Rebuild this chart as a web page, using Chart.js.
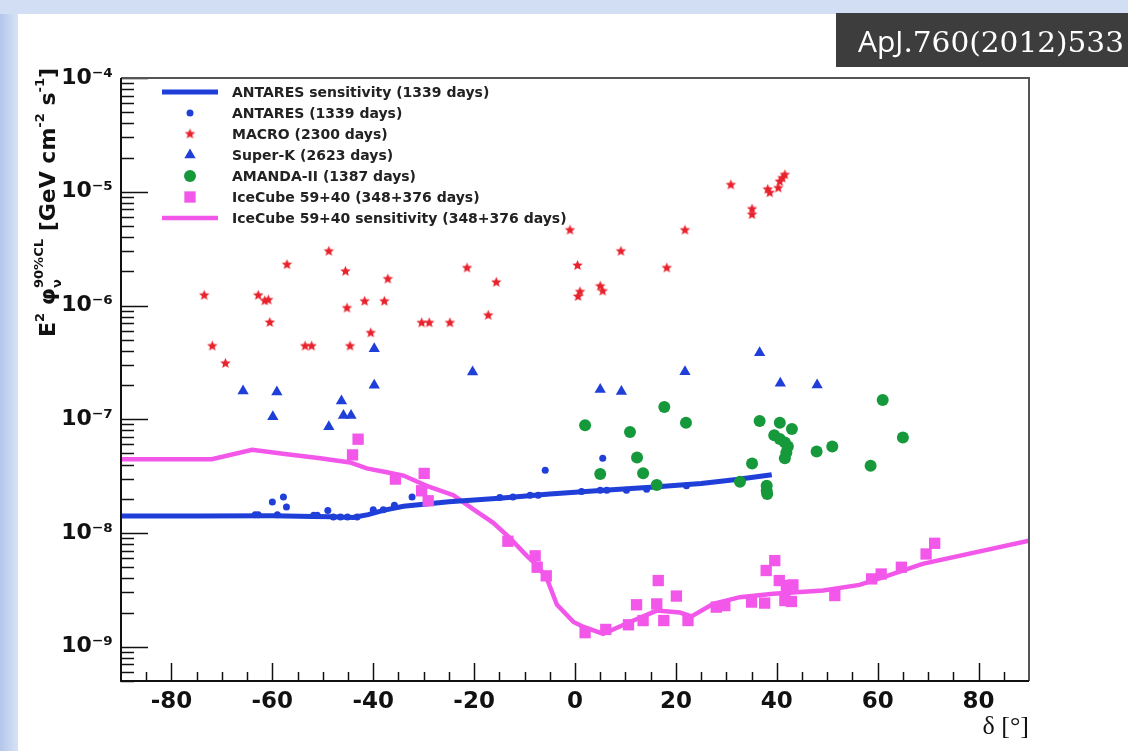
<!DOCTYPE html>
<html>
<head>
<meta charset="utf-8">
<script src="https://cdn.jsdelivr.net/npm/chart.js@4.4.1/dist/chart.umd.min.js"></script>
<style>
    html, body { margin: 0; padding: 0; background: #fff; }
    canvas { display: block; }
</style>
</head>
<body>
<canvas id="chart-limits" width="1128" height="751"></canvas>
<script>
// ---- data (declination in degrees, flux in GeV cm^-2 s^-1) ----
const antaresSensDec  = [-90, -75, -60, -52, -48, -44, -41, -38, -34, -25, -15, -5, 5, 15, 25, 32, 39];
const antaresSensFlux = [1.41e-8, 1.41e-8, 1.42e-8, 1.40e-8, 1.39e-8, 1.37e-8, 1.45e-8, 1.58e-8, 1.72e-8,
                         1.88e-8, 2.02e-8, 2.20e-8, 2.36e-8, 2.52e-8, 2.72e-8, 2.95e-8, 3.25e-8];

const antaresDec  = [-63.4, -62.8, -59, -51.8, -51.1, -49, -47.9, -46.5, -45.1, -43.2, -40, -38, -35.8,
                     -14.9, -12.3, -8.9, -7.3, 1.3, 5, 6.3, 10.2, 14.2, 22.1,
                     -60, -57.8, -57.2, -32.3, -5.9, 5.5];
const antaresFlux = [1.45e-8, 1.45e-8, 1.45e-8, 1.43e-8, 1.43e-8, 1.58e-8, 1.38e-8, 1.38e-8, 1.38e-8, 1.38e-8,
                     1.60e-8, 1.60e-8, 1.75e-8, 2.05e-8, 2.07e-8, 2.15e-8, 2.15e-8, 2.32e-8, 2.38e-8, 2.38e-8,
                     2.38e-8, 2.42e-8, 2.60e-8,
                     1.87e-8, 2.07e-8, 1.69e-8, 2.07e-8, 3.57e-8, 4.55e-8];

const macroDec  = [-73.5, -71.9, -69.3, -62.8, -61.5, -60.8, -60.5, -57.1, -53.5, -52.2, -48.8, -45.5, -45.2,
                   -44.6, -41.7, -40.5, -37.8, -37.1, -30.4, -28.9, -24.8, -21.4, -17.2, -15.6, -1, 0.5,
                   1.0, 0.6, 5, 5.5, 9.1, 18.2, 21.8, 30.9, 35.1, 35.1, 38.2, 38.6, 40.3, 40.6, 41.1, 41.6];
const macroFlux = [1.23e-6, 4.4e-7, 3.1e-7, 1.23e-6, 1.10e-6, 1.12e-6, 7.1e-7, 2.29e-6, 4.4e-7, 4.4e-7,
                   3.0e-6, 2.0e-6, 9.5e-7, 4.4e-7, 1.09e-6, 5.75e-7, 1.09e-6, 1.71e-6, 7.05e-7, 7.05e-7,
                   7.05e-7, 2.14e-6, 8.2e-7, 1.6e-6, 4.6e-6, 2.25e-6, 1.32e-6, 1.2e-6, 1.48e-6, 1.34e-6,
                   3.0e-6, 2.14e-6, 4.6e-6, 1.15e-5, 7.05e-6, 6.3e-6, 1.05e-5, 9.8e-6, 1.08e-5, 1.23e-5,
                   1.32e-5, 1.41e-5];

const superKDec  = [-65.8, -59.1, -59.9, -48.8, -46.3, -45.9, -44.4, -39.8, -39.8, -20.3, 5, 9.2, 21.8, 36.6, 40.7, 48];
const superKFlux = [1.77e-7, 1.74e-7, 1.05e-7, 8.6e-8, 1.45e-7, 1.08e-7, 1.08e-7, 4.17e-7, 1.99e-7, 2.6e-7,
                    1.83e-7, 1.75e-7, 2.62e-7, 3.85e-7, 2.07e-7, 2.0e-7];

const amandaDec  = [2, 5, 10.9, 12.3, 13.5, 16.2, 17.7, 22, 32.7, 35.1, 36.6, 38, 38, 38.1, 40.6, 43,
                    39.5, 40.6, 41.6, 42.2, 41.9, 41.6, 47.9, 51, 58.6, 61, 65];
const amandaFlux = [8.85e-8, 3.3e-8, 7.74e-8, 4.6e-8, 3.36e-8, 2.64e-8, 1.28e-7, 9.3e-8, 2.82e-8, 4.08e-8,
                    9.65e-8, 2.6e-8, 2.35e-8, 2.2e-8, 9.3e-8, 8.2e-8, 7.24e-8, 6.7e-8, 6.25e-8, 5.76e-8,
                    5.1e-8, 4.55e-8, 5.2e-8, 5.76e-8, 3.9e-8, 1.48e-7, 6.92e-8];

const icecubeDec  = [-43, -44.1, -35.6, -29.9, -30.4, -29.1, -13.3, -7.9, -7.5, -5.7, 2, 6.1, 10.6, 12.2, 13.5,
                     16.5, 16.2, 17.6, 20.1, 22.4, 28, 29.7, 35, 37.6, 37.9, 39.6, 40.5, 41.9, 43.2, 41.6,
                     42.9, 51.5, 58.8, 60.7, 64.7, 69.6, 71.3];
const icecubeFlux = [6.68e-8, 4.86e-8, 2.98e-8, 3.34e-8, 2.35e-8, 1.92e-8, 8.46e-9, 6.3e-9, 5.0e-9, 4.2e-9,
                     1.33e-9, 1.42e-9, 1.56e-9, 2.34e-9, 1.7e-9, 3.82e-9, 2.38e-9, 1.7e-9, 2.79e-9, 1.7e-9,
                     2.23e-9, 2.3e-9, 2.47e-9, 2.42e-9, 4.68e-9, 5.72e-9, 3.82e-9, 3.45e-9, 3.5e-9, 2.55e-9,
                     2.5e-9, 2.82e-9, 3.95e-9, 4.36e-9, 5.0e-9, 6.54e-9, 8.12e-9];

const icecubeSensDec  = [-90, -72, -64, -57.1, -50.5, -44.6, -41.3, -37.3, -34, -29.4, -24.1, -20.2, -16.2,
                         -12.9, -9.4, -7.5, -5.6, -3.6, -0.3, 1.6, 5.6, 10.9, 16.2, 20.8, 23.1, 27.4, 32.7,
                         39.3, 49.2, 56.4, 61, 68.9, 90];
const icecubeSensFlux = [4.46e-8, 4.46e-8, 5.38e-8, 4.93e-8, 4.55e-8, 4.17e-8, 3.7e-8, 3.42e-8, 3.2e-8, 2.6e-8,
                         2.15e-8, 1.62e-8, 1.23e-8, 9.0e-9, 6.2e-9, 5.2e-9, 4.0e-9, 2.35e-9, 1.65e-9, 1.5e-9,
                         1.3e-9, 1.65e-9, 2.08e-9, 2.0e-9, 1.85e-9, 2.38e-9, 2.73e-9, 2.92e-9, 3.12e-9, 3.5e-9,
                         4.08e-9, 5.35e-9, 8.55e-9];

const xTickValues = [-80, -60, -40, -20, 0, 20, 40, 60, 80];
const yTickValues = [1e-9, 1e-8, 1e-7, 1e-6, 1e-5, 1e-4];
const yTickLabels = ['10\u207b\u2079', '10\u207b\u2078', '10\u207b\u2077', '10\u207b\u2076', '10\u207b\u2075', '10\u207b\u2074'];

// ---- styling ----
const blue = '#1f3fd8';
const red = '#e8232e';
const green = '#16993b';
const pink = '#f257ea';
const tickFont = '"DejaVu Sans", Arial, sans-serif';

function pts(xs, ys) {
    return xs.map((x, i) => ({ x: x, y: ys[i] }));
}

function makeStar(r, color) {
    const c = document.createElement('canvas');
    const s = Math.ceil(r * 2) + 2;
    c.width = s; c.height = s;
    const g = c.getContext('2d');
    g.fillStyle = color;
    g.beginPath();
    for (let i = 0; i < 10; i++) {
        const rad = i % 2 ? r * 0.45 : r;
        const a = -Math.PI / 2 + i * Math.PI / 5;
        g.lineTo(s / 2 + rad * Math.cos(a), s / 2 + rad * Math.sin(a));
    }
    g.closePath();
    g.fill();
    return c;
}
const starPoint = makeStar(5.5, red);

function drawMarker(ctx, style, r, color, x, y) {
    ctx.fillStyle = color;
    ctx.beginPath();
    if (style === 'circle') {
        ctx.arc(x, y, r, 0, Math.PI * 2);
    } else if (style === 'triangle') {
        for (let i = 0; i < 3; i++) {
            const a = i * 2 * Math.PI / 3;
            ctx.lineTo(x + Math.sin(a) * r, y - Math.cos(a) * r);
        }
        ctx.closePath();
    } else if (style === 'rect') {
        const h = r * Math.SQRT1_2;
        ctx.rect(x - h, y - h, 2 * h, 2 * h);
    } else {
        ctx.drawImage(style, x - style.width / 2, y - style.height / 2);
        return;
    }
    ctx.fill();
}

// background, frame, inside ticks, legend, y title, journal tag
const pageDecor = {
    id: 'pageDecor',
    beforeDraw(chart) {
        const ctx = chart.ctx;
        ctx.save();
        ctx.fillStyle = '#d2def4';
        ctx.fillRect(0, 0, chart.width, chart.height);
        const g = ctx.createLinearGradient(0, 0, 18, 0);
        g.addColorStop(0, '#b3c6ea');
        g.addColorStop(1, '#d8e3f6');
        ctx.fillStyle = g;
        ctx.fillRect(0, 14, 18, chart.height);
        ctx.fillStyle = '#ffffff';
        ctx.fillRect(18, 14, chart.width - 18, chart.height - 14);
        ctx.restore();
    },
    afterDatasetsDraw(chart) {
        const ctx = chart.ctx, a = chart.chartArea;
        const xs = chart.scales.x, ys = chart.scales.y;
        ctx.save();
        ctx.strokeStyle = '#111';
        ctx.lineWidth = 1.5;
        ctx.beginPath();
        for (let d = -85; d <= 85; d += 5) {
            const px = Math.round(xs.getPixelForValue(d)) + 0.5;
            const len = d % 20 === 0 ? 18 : 9;
            ctx.moveTo(px, a.bottom);
            ctx.lineTo(px, a.bottom - len);
        }
        for (let e = -10; e <= -4; e++) {
            for (let m = 1; m <= 9; m++) {
                const v = m * Math.pow(10, e);
                if (v < ys.min * 0.999 || v > ys.max * 1.001) continue;
                const py = Math.round(ys.getPixelForValue(v)) + 0.5;
                ctx.moveTo(a.left, py);
                ctx.lineTo(a.left + (m === 1 ? 27 : 13), py);
            }
        }
        ctx.stroke();

        // frame
        ctx.lineWidth = 2;
        ctx.strokeStyle = '#555';
        ctx.beginPath();
        ctx.moveTo(a.left, a.top);
        ctx.lineTo(a.right, a.top);
        ctx.lineTo(a.right, a.bottom);
        ctx.stroke();
        ctx.strokeStyle = '#111';
        ctx.beginPath();
        ctx.moveTo(a.left, a.top);
        ctx.lineTo(a.left, a.bottom);
        ctx.lineTo(a.right, a.bottom);
        ctx.stroke();
        ctx.restore();
    },
    afterDraw(chart) {
        const ctx = chart.ctx;
        ctx.save();

        // legend inside the frame
        chart.data.datasets.forEach((ds, i) => {
            const y = 92 + i * 21;
            if (ds.showLine) {
                ctx.strokeStyle = ds.borderColor;
                ctx.lineWidth = ds.borderWidth;
                ctx.beginPath();
                ctx.moveTo(162, y);
                ctx.lineTo(218, y);
                ctx.stroke();
            } else {
                drawMarker(ctx, ds.pointStyle, ds.pointRadius, ds.backgroundColor, 190, y);
            }
            ctx.fillStyle = '#222';
            ctx.font = 'bold 14px ' + tickFont;
            ctx.textAlign = 'left';
            ctx.textBaseline = 'middle';
            ctx.fillText(ds.label, 232, y + 1);
        });

        // rotated y title with sub/superscripts
        const big = 'bold 22px ' + tickFont, small = 'bold 13px ' + tickFont;
        const parts = [
            { t: 'E', f: big, dy: 0 },
            { t: '2', f: small, dy: -11 },
            { t: ' \u03c6', f: big, dy: 0 },
            { stack: [{ t: '\u03bd', f: small, dy: 6 }, { t: '90%CL', f: small, dy: -12 }] },
            { t: ' [GeV cm', f: big, dy: 0 },
            { t: '-2', f: small, dy: -11 },
            { t: ' s', f: big, dy: 0 },
            { t: '-1', f: small, dy: -11 },
            { t: ']', f: big, dy: 0 }
        ];
        const widthOf = (p) => {
            if (p.stack) return Math.max(...p.stack.map(widthOf));
            ctx.font = p.f;
            return ctx.measureText(p.t).width;
        };
        const total = parts.reduce((s, p) => s + widthOf(p), 0);
        ctx.translate(55, 68 + total);
        ctx.rotate(-Math.PI / 2);
        ctx.fillStyle = '#111';
        ctx.textAlign = 'left';
        ctx.textBaseline = 'alphabetic';
        let cx = 0;
        parts.forEach((p) => {
            const list = p.stack ? p.stack : [p];
            list.forEach((q) => {
                ctx.font = q.f;
                ctx.fillText(q.t, cx, q.dy);
            });
            cx += widthOf(p);
        });
        ctx.setTransform(1, 0, 0, 1, 0, 0);

        // journal reference tag
        ctx.fillStyle = '#3d3d3d';
        ctx.fillRect(836, 13, chart.width - 836, 54);
        ctx.fillStyle = '#ffffff';
        ctx.textBaseline = 'alphabetic';
        ctx.font = '30px "Open Sans", sans-serif';
        ctx.fillText('ApJ', 858, 52);
        const w1 = ctx.measureText('ApJ').width;
        ctx.font = '27px "DejaVu Serif Condensed", "DejaVu Serif", serif';
        const txt = '.760(2012)533';
        const w2 = ctx.measureText(txt).width;
        const avail = 1124 - (858 + w1);
        ctx.translate(858 + w1, 52);
        ctx.scale(avail / w2, 1);
        ctx.fillText(txt, 0, 0);
        ctx.restore();
    }
};

const ctx = document.getElementById('chart-limits').getContext('2d');

new Chart(ctx, {
    type: 'scatter',
    data: {
        datasets: [{
            label: 'ANTARES sensitivity (1339 days)',
            data: pts(antaresSensDec, antaresSensFlux),
            showLine: true,
            borderColor: blue,
            backgroundColor: blue,
            borderWidth: 5,
            pointRadius: 0,
            tension: 0,
            order: 5
        },
        {
            label: 'ANTARES (1339 days)',
            data: pts(antaresDec, antaresFlux),
            pointStyle: 'circle',
            pointRadius: 3.5,
            backgroundColor: blue,
            borderColor: blue,
            borderWidth: 0,
            order: 1
        },
        {
            label: 'MACRO (2300 days)',
            data: pts(macroDec, macroFlux),
            pointStyle: starPoint,
            pointRadius: 5.5,
            backgroundColor: red,
            borderColor: red,
            order: 1
        },
        {
            label: 'Super-K (2623 days)',
            data: pts(superKDec, superKFlux),
            pointStyle: 'triangle',
            pointRadius: 6.5,
            backgroundColor: blue,
            borderColor: blue,
            borderWidth: 0,
            order: 1
        },
        {
            label: 'AMANDA-II (1387 days)',
            data: pts(amandaDec, amandaFlux),
            pointStyle: 'circle',
            pointRadius: 6,
            backgroundColor: green,
            borderColor: green,
            borderWidth: 0,
            order: 1
        },
        {
            label: 'IceCube 59+40 (348+376 days)',
            data: pts(icecubeDec, icecubeFlux),
            pointStyle: 'rect',
            pointRadius: 8,
            backgroundColor: pink,
            borderColor: pink,
            borderWidth: 0,
            order: 1
        },
        {
            label: 'IceCube 59+40 sensitivity (348+376 days)',
            data: pts(icecubeSensDec, icecubeSensFlux),
            showLine: true,
            borderColor: pink,
            backgroundColor: pink,
            borderWidth: 4.5,
            pointRadius: 0,
            tension: 0,
            order: 5
        }]
    },
    options: {
        responsive: false,
        animation: false,
        devicePixelRatio: 1,
        layout: {
            padding: { left: 0, top: 78, right: 99, bottom: 6 }
        },
        plugins: {
            legend: { display: false },
            tooltip: { enabled: false }
        },
        scales: {
            x: {
                type: 'linear',
                position: 'bottom',
                min: -90,
                max: 90,
                afterBuildTicks: (axis) => { axis.ticks = xTickValues.map(v => ({ value: v })); },
                afterFit: (axis) => { axis.height = 64; },
                grid: { display: false, drawTicks: false },
                border: { display: false },
                ticks: {
                    autoSkip: false,
                    maxRotation: 0,
                    padding: 7,
                    color: '#111',
                    font: { family: tickFont, size: 23, weight: 'bold' }
                },
                title: {
                    display: true,
                    text: '\u03b4 [\u00b0]',
                    align: 'end',
                    color: '#111',
                    padding: { top: 0, bottom: 2 },
                    font: { family: '"Liberation Serif", "Times New Roman", serif', size: 26 }
                }
            },
            y: {
                type: 'logarithmic',
                position: 'left',
                min: 5e-10,
                max: 1e-4,
                afterBuildTicks: (axis) => { axis.ticks = yTickValues.map(v => ({ value: v })); },
                afterFit: (axis) => { axis.width = 121; },
                grid: { display: false, drawTicks: false },
                border: { display: false },
                ticks: {
                    autoSkip: false,
                    padding: 8,
                    color: '#111',
                    font: { family: tickFont, size: 22, weight: 'bold' },
                    callback: (v) => {
                        const i = yTickValues.findIndex(t => Math.abs(t - v) / t < 1e-6);
                        return i >= 0 ? yTickLabels[i] : '';
                    }
                }
            }
        }
    },
    plugins: [pageDecor]
});
</script>
</body>
</html>
